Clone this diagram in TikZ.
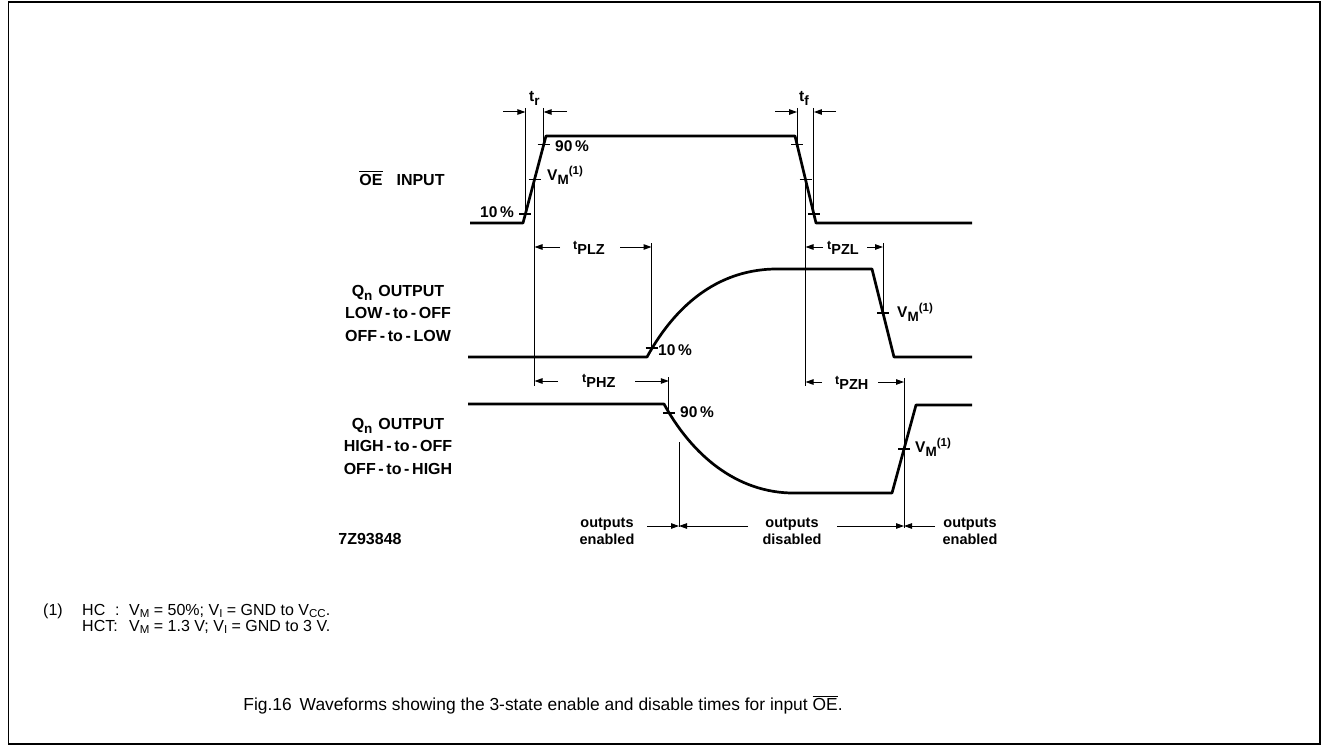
\documentclass[tikz,border=0pt]{standalone}
\usepackage{fontspec}
\setmainfont{Liberation Sans}
\usetikzlibrary{arrows.meta}
\newcommand\sbx[1]{\raisebox{-4pt}{\fontsize{13.5}{13.5}\selectfont #1}}
\newcommand\spx[1]{\raisebox{6pt}{\fontsize{11.5}{11.5}\selectfont #1}}
\newcommand\tsub[1]{{\fontsize{12.5}{12.5}\selectfont t}\raisebox{-5pt}{\fontsize{14.5}{14.5}\selectfont #1}}
\newcommand\sbn[1]{\raisebox{-2.8pt}{\fontsize{11.5}{11.5}\selectfont #1}}
\newcommand\ovl[2]{\leavevmode\setbox0\hbox{#2}\rlap{\rule[\dimexpr\ht0+1.6pt\relax]{\wd0}{#1}}\box0}
\begin{document}
\begin{tikzpicture}[x=1pt,y=-1pt,
 wave/.style={line width=2.7pt, line join=round},
 dimline/.style={line width=1pt},
 dimarr/.style={line width=1pt, -{Triangle[length=8pt,width=5.5pt]}},
 tickm/.style={line width=1.5pt},
 lbl/.style={font=\bfseries\fontsize{15.5}{18}\selectfont, inner sep=0pt, anchor=base west},
 side/.style={font=\bfseries\fontsize{16}{22.5}\selectfont, inner sep=0pt, align=center},
 outl/.style={font=\bfseries\fontsize{14.5}{17}\selectfont, inner sep=0pt, align=center},
 note/.style={font=\fontsize{16}{16}\selectfont, inner sep=0pt, anchor=base west},
 capt/.style={font=\fontsize{17.4}{20}\selectfont, inner sep=0pt},
 frame/.style={line width=1.5pt}]
\useasboundingbox (0,0) rectangle (1322,746);
% frame
\coordinate (fa) at (8.5,2); \coordinate (fb) at (1320,744);
\draw[frame] (fa) rectangle (fb);

% ---------- OE input waveform
\coordinate (oe0) at (470,223); \coordinate (oe1) at (523,223);
\coordinate (oe2) at (546,136); \coordinate (oe3) at (795,136);
\coordinate (oe4) at (816,223); \coordinate (oe5) at (972,223);
\draw[wave] (oe0) -- (oe1) -- (oe2) -- (oe3) -- (oe4) -- (oe5);
\coordinate (oe10r) at (525.4,214); \coordinate (oe90r) at (543.6,144.7);
\coordinate (oevmr) at (534.5,179.5);
\coordinate (oe90f) at (797.1,144.7); \coordinate (oevmf) at (805.5,179.5);
\coordinate (oe10f) at (813.9,214);
\foreach \p in {oe10r,oe90r,oevmr,oe90f,oevmf,oe10f}
  \draw[tickm] ([xshift=-6pt]\p) -- ([xshift=6pt]\p);

% ---------- Qn LOW-to-OFF waveform
\coordinate (qa0) at (468,357); \coordinate (qa1) at (647,357);
\coordinate (qa2) at (775,269); \coordinate (qa3) at (872,269);
\coordinate (qa4) at (894,357); \coordinate (qa5) at (972,357);
\draw[wave] (qa0) -- (qa1) .. controls (670,315) and (710,270) .. (qa2)
  -- (qa3) -- (qa4) -- (qa5);
\coordinate (qa10) at (651.5,348); \coordinate (qavm) at (883,313);
\foreach \p in {qa10,qavm}
  \draw[tickm] ([xshift=-6pt]\p) -- ([xshift=6pt]\p);

% ---------- Qn HIGH-to-OFF waveform
\coordinate (qb0) at (468,404); \coordinate (qb1) at (664,404);
\coordinate (qb2) at (790,493); \coordinate (qb3) at (892,493);
\coordinate (qb4) at (916,405); \coordinate (qb5) at (972,405);
\draw[wave] (qb0) -- (qb1) .. controls (688,448) and (730,491) .. (qb2)
  -- (qb3) -- (qb4) -- (qb5);
\coordinate (qb90) at (668.8,413); \coordinate (qbvm) at (904,449);
\foreach \p in {qb90,qbvm}
  \draw[tickm] ([xshift=-6pt]\p) -- ([xshift=6pt]\p);

% ---------- tr / tf
\coordinate (trL) at (525.4,108); \coordinate (trR) at (543.6,108);
\draw[dimline] (trL) -- (oe10r); \draw[dimline] (trR) -- (oe90r);
\coordinate (trLa) at (503,112); \coordinate (trRa) at (567,112);
\draw[dimarr] (trLa) -- (trLa -| trL);
\draw[dimarr] (trRa) -- (trRa -| trR);
\node[lbl] (trlab) at (529,102) {t\sbx{r}};

\coordinate (tfL) at (797.1,108); \coordinate (tfR) at (813.9,108);
\draw[dimline] (tfL) -- (oe90f); \draw[dimline] (tfR) -- (oe10f);
\coordinate (tfLa) at (775,112); \coordinate (tfRa) at (836,112);
\draw[dimarr] (tfLa) -- (tfLa -| tfL);
\draw[dimarr] (tfRa) -- (tfRa -| tfR);
\node[lbl] (tflab) at (799,102) {t\sbx{f}};

% ---------- long reference verticals
\coordinate (vr1) at (534.5,386); \coordinate (vr2) at (805.5,386);
\draw[dimline] (oevmr) -- (vr1);
\draw[dimline] (oevmf) -- (vr2);

% tPLZ
\coordinate (plzT) at (651.5,243);
\draw[dimline] (plzT) -- (qa10);
\coordinate (plzA) at (560,247); \coordinate (plzB) at (620,247);
\draw[dimarr] (plzA) -- (plzA -| oevmr);
\draw[dimarr] (plzB) -- (plzB -| plzT);
\node[lbl] (tplz) at (573,249) {\tsub{PLZ}};

% tPHZ
\coordinate (phzT) at (668.8,377);
\draw[dimline] (phzT) -- (qb90);
\coordinate (phzA) at (558,381); \coordinate (phzB) at (635,381);
\draw[dimarr] (phzA) -- (phzA -| oevmr);
\draw[dimarr] (phzB) -- (phzB -| phzT);
\node[lbl] (tphz) at (582,382) {\tsub{PHZ}};

% tPZL
\coordinate (pzlT) at (883,243);
\draw[dimline] (pzlT) -- (qavm);
\coordinate (pzlA) at (823,247); \coordinate (pzlB) at (867,247);
\draw[dimarr] (pzlA) -- (pzlA -| oevmf);
\draw[dimarr] (pzlB) -- (pzlB -| pzlT);
\node[lbl] (tpzl) at (827,249) {\tsub{PZL}};

% tPZH
\coordinate (pzhT) at (904,378); \coordinate (pzhE) at (904,528);
\draw[dimline] (pzhT) -- (pzhE);
\coordinate (pzhA) at (822,382); \coordinate (pzhB) at (878,382);
\draw[dimarr] (pzhA) -- (pzhA -| oevmf);
\draw[dimarr] (pzhB) -- (pzhB -| pzhT);
\node[lbl] (tpzh) at (835,384) {\tsub{PZH}};

% outputs enabled / disabled
\coordinate (enT) at (679,442); \coordinate (enE) at (679,527);
\draw[dimline] (enT) -- (enE);
\node[outl] (oen1) at (607,531) {outputs\\enabled};
\node[outl] (odis) at (792,531) {outputs\\disabled};
\node[outl] (oen2) at (970,531) {outputs\\enabled};
\coordinate (a1) at (647,526); \coordinate (a2) at (748,526);
\coordinate (a3) at (837,526); \coordinate (a4) at (935,526);
\draw[dimarr] (a1) -- (a1 -| enT);
\draw[dimarr] (a2) -- (a2 -| enT);
\draw[dimarr] (a3) -- (a3 -| pzhT);
\draw[dimarr] (a4) -- (a4 -| pzhT);

% percentage / VM labels
\node[lbl] (l10a) at (514,218) [anchor=base east] {10\,\%};
\node[lbl] (l90a) at (555,152) {90\,\%};
\node[lbl] (lvma) at (547,181) {V\sbx{M}\spx{(1)}};
\node[lbl] (l10b) at (658,355) {10\,\%};
\node[lbl] (lvmb) at (897,317) {V\sbx{M}\spx{(1)}};
\node[lbl] (l90b) at (680,417) {90\,\%};
\node[lbl] (lvmc) at (915,452) {V\sbx{M}\spx{(1)}};

% side labels
\node[side] (soe) at (402,178) {\ovl{1.8pt}{OE}\hspace{14pt}INPUT};
\node[side] (sqa) at (398,313) {Q\sbx{n}\hspace{6pt}OUTPUT\\LOW\,-\,to\,-\,OFF\\OFF\,-\,to\,-\,LOW};
\node[side] (sqb) at (398,446) {Q\sbx{n}\hspace{6pt}OUTPUT\\HIGH\,-\,to\,-\,OFF\\OFF\,-\,to\,-\,HIGH};
\node[side] (code) at (370,539) {7Z93848};

% footnote
\node[note] (fn1) at (43,615) {(1)};
\node[note] (fn2) at (82,615) {\rlap{HC}\phantom{HCT}:};
\node[note] (fn3) at (129,615) {V\sbn{M} = 50\%; V\sbn{I} = GND to V\sbn{CC}.};
\node[note] (fn4) at (82,631) {HCT:};
\node[note] (fn5) at (129,631) {V\sbn{M} = 1.3 V; V\sbn{I} = GND to 3 V.};

% caption
\node[capt] (cap) at (543,705) {Fig.16\hspace{8pt}Waveforms showing the 3-state enable and disable times for input \ovl{1pt}{OE}.};
\end{tikzpicture}
\end{document}
